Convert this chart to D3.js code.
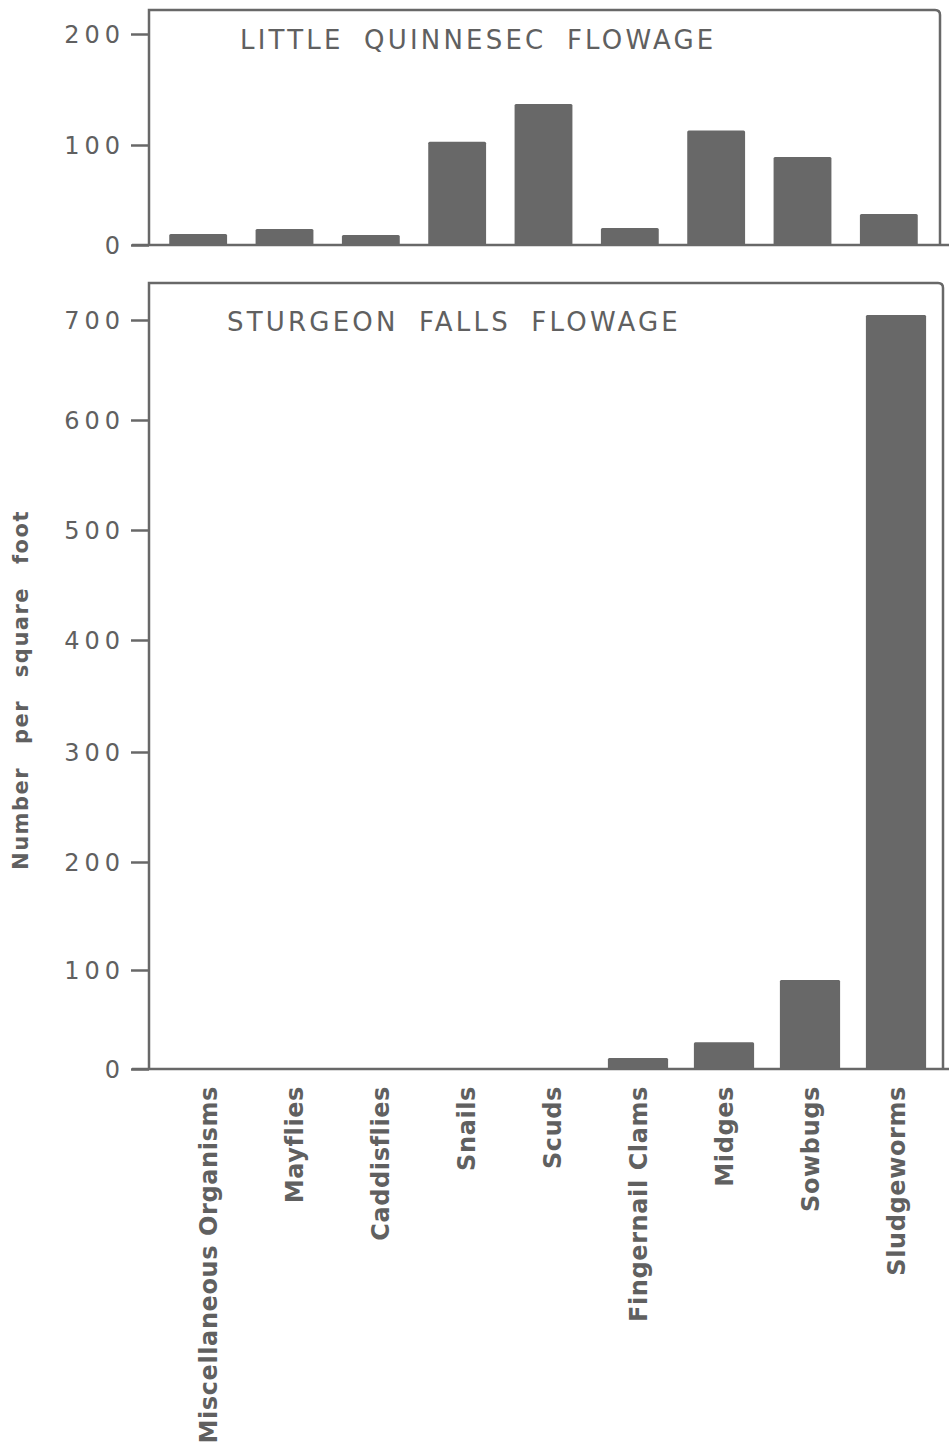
<!DOCTYPE html>
<html>
<head>
<meta charset="utf-8">
<script src="https://cdn.jsdelivr.net/npm/d3@7"></script>
<style>
  html, body { margin: 0; padding: 0; background: #fff; }
  svg { display: block; }
</style>
</head>
<body>
<div id="chart"></div>
<script>
// Bottom fauna of two flowages: number of organisms per square foot
const categories = [
  "Miscellaneous Organisms", "Mayflies", "Caddisflies", "Snails", "Scuds",
  "Fingernail Clams", "Midges", "Sowbugs", "Sludgeworms"
];
const littleQuinnesec = [11, 16, 10, 103, 137, 17, 113, 88, 31];
const sturgeonFalls   = [0, 0, 0, 0, 0, 11, 27, 90, 705];

const topTicks = [0, 100, 200];
const bottomTicks = [0, 100, 200, 300, 400, 500, 600, 700];

const topTitle = "LITTLE QUINNESEC FLOWAGE";
const bottomTitle = "STURGEON FALLS FLOWAGE";
const yAxisTitle = "Number per square foot";

const W = 949, H = 1445;
const ink = "#686868";
const textInk = "#606060";
const axisX = 149;

const svg = d3.select("#chart").append("svg")
  .attr("width", W).attr("height", H)
  .attr("viewBox", `0 0 ${W} ${H}`);
svg.append("rect").attr("width", W).attr("height", H).attr("fill", "#fff");

// hand-ruled axes: tick spacing is slightly uneven, so scales are piecewise linear
const yTop = d3.scaleLinear().domain(topTicks).range([245, 145, 34]);
const yBottom = d3.scaleLinear().domain(bottomTicks)
  .range([1069, 970, 862, 752, 640, 530, 420, 320]);

const xTop = d3.scaleBand().domain(categories).range([155, 932])
  .paddingInner(0.33).paddingOuter(0.165);
const xBottom = d3.scaleBand().domain(categories).range([165, 939])
  .paddingInner(0.30).paddingOuter(0.15);

function panel(y, x, values, ticks, frameTop, frameRight, title, titleX, titleY) {
  const g = svg.append("g");
  const y0 = y(0);

  // frame: left axis, top rule and right side with a rounded corner
  g.append("path")
    .attr("d", `M${axisX},${y0} V${frameTop} H${frameRight - 5} Q${frameRight},${frameTop} ${frameRight},${frameTop + 5} V${y0}`)
    .attr("fill", "none").attr("stroke", ink).attr("stroke-width", 2.5);

  // baseline
  g.append("line")
    .attr("x1", 132).attr("x2", W).attr("y1", y0).attr("y2", y0)
    .attr("stroke", ink).attr("stroke-width", 2.5);

  // bars
  g.selectAll("rect.bar")
    .data(categories.map((c, i) => ({ c, v: values[i] })).filter(d => d.v > 0))
    .join("rect")
    .attr("class", "bar")
    .attr("x", d => x(d.c))
    .attr("width", x.bandwidth())
    .attr("y", d => y(d.v))
    .attr("height", d => y0 - y(d.v))
    .attr("rx", 1.5)
    .attr("fill", ink);

  // y axis ticks and labels
  const axis = d3.axisLeft(y).tickValues(ticks).tickSize(18).tickSizeOuter(0)
    .tickPadding(10).tickFormat(d3.format("d"));
  const ag = g.append("g").attr("transform", `translate(${axisX},0)`).call(axis);
  ag.select(".domain").remove();
  ag.selectAll(".tick line").attr("stroke", ink).attr("stroke-width", 2.5);
  ag.selectAll(".tick text")
    .attr("fill", textInk)
    .attr("font-family", "DejaVu Sans")
    .attr("font-size", 24)
    .attr("letter-spacing", 5)
    .attr("dy", "0.36em")
    .attr("x", -24);

  // panel title
  g.append("text")
    .attr("x", titleX).attr("y", titleY)
    .attr("fill", textInk)
    .attr("font-family", "DejaVu Sans")
    .attr("font-size", 26)
    .attr("letter-spacing", 3.2)
    .attr("word-spacing", 9)
    .text(title);
}

panel(yTop, xTop, littleQuinnesec, topTicks, 10, 940, topTitle, 240, 49);
panel(yBottom, xBottom, sturgeonFalls, bottomTicks, 283, 943, bottomTitle, 227, 331);

// category labels, read bottom to top beneath the lower panel
svg.append("g").selectAll("text")
  .data(categories)
  .join("text")
  .attr("transform", d => `translate(${xBottom(d) + xBottom.bandwidth() / 2 + 9},1086) rotate(-90)`)
  .attr("text-anchor", "end")
  .attr("fill", textInk)
  .attr("font-family", "DejaVu Sans")
  .attr("font-weight", "bold")
  .attr("font-size", 24)
  .attr("letter-spacing", 0.6)
  .text(d => d);

// y axis title
svg.append("text")
  .attr("transform", `translate(28,690) rotate(-90)`)
  .attr("text-anchor", "middle")
  .attr("fill", textInk)
  .attr("font-family", "DejaVu Sans")
  .attr("font-weight", "bold")
  .attr("font-size", 21)
  .attr("letter-spacing", 1.5)
  .attr("word-spacing", 14)
  .text(yAxisTitle);
</script>
</body>
</html>
